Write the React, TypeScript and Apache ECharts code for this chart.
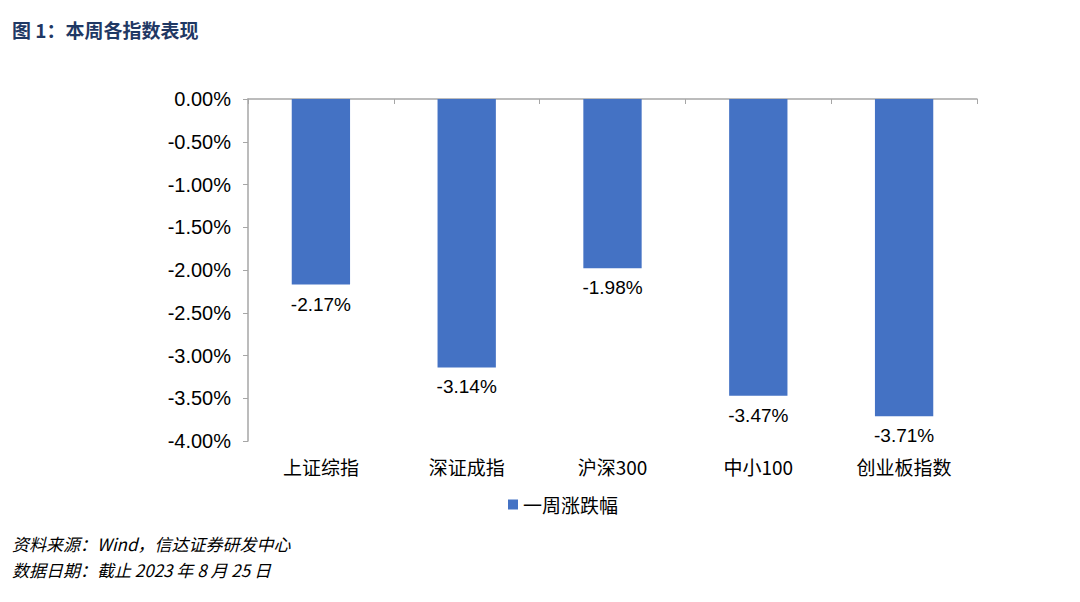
import React, { useEffect, useRef } from "react";
import * as echarts from "echarts";

const categories = ["上证综指", "深证成指", "沪深300", "中小100", "创业板指数"];
const weeklyChange = [-2.17, -3.14, -1.98, -3.47, -3.71];
const seriesName = "一周涨跌幅";

export default function App() {
  const ref = useRef<HTMLDivElement>(null);
  useEffect(() => {
    const chart = echarts.init(ref.current!, null, { renderer: "svg" });
    const cjk = "'Noto Sans CJK SC', sans-serif";
    const latin = "'Liberation Sans', Arial, sans-serif";
    chart.setOption({
      animation: false,
      backgroundColor: "#ffffff",
      title: [
        {
          text: "图 1：本周各指数表现",
          left: 7,
          top: 15,
          textStyle: { fontSize: 19, fontWeight: "bold", color: "#1f3864", fontFamily: cjk },
        },
      ],
      graphic: [
        {
          type: "text",
          left: 12,
          top: 535,
          style: { text: "资料来源：Wind，信达证券研发中心", fontSize: 17, fontStyle: "italic", fill: "#000", fontFamily: cjk },
        },
        {
          type: "text",
          left: 12,
          top: 561,
          style: { text: "数据日期：截止 2023 年 8 月 25 日", fontSize: 17, fontStyle: "italic", fill: "#000", fontFamily: cjk },
        },
      ],
      legend: {
        data: [seriesName],
        top: 490,
        left: 503,
        itemWidth: 10,
        itemHeight: 10,
        itemGap: 6,
        textStyle: { fontSize: 19, color: "#000", fontFamily: cjk },
        icon: "rect",
      },
      grid: { left: 248, right: 103, top: 99, bottom: 161, containLabel: false },
      xAxis: [
        {
          type: "category",
          data: categories,
          position: "top",
          axisLine: { show: true, onZero: false, lineStyle: { color: "#a6a6a6", width: 1.5 } },
          axisTick: { show: true, inside: true, length: 5, alignWithLabel: false, lineStyle: { color: "#a6a6a6" } },
          axisLabel: { show: false },
        },
        {
          type: "category",
          data: categories,
          position: "bottom",
          axisLine: { show: false },
          axisTick: { show: false },
          axisLabel: { show: true, margin: 16, fontSize: 19, color: "#000", fontFamily: cjk },
        },
      ],
      yAxis: {
        type: "value",
        min: -4,
        max: 0,
        interval: 0.5,
        axisLine: { show: true, lineStyle: { color: "#a6a6a6", width: 1.5 } },
        axisTick: { show: true, length: 5, lineStyle: { color: "#a6a6a6" } },
        splitLine: { show: false },
        axisLabel: {
          fontSize: 20,
          color: "#000",
          margin: 17,
          fontFamily: latin,
          formatter: (v: number) => v.toFixed(2) + "%",
        },
      },
      series: [
        {
          name: seriesName,
          type: "bar",
          xAxisIndex: 1,
          data: weeklyChange,
          barWidth: "40%",
          itemStyle: { color: "#4472c4" },
          label: {
            show: true,
            position: "bottom",
            distance: 10,
            fontSize: 19,
            color: "#000",
            fontFamily: latin,
            formatter: (p: any) => p.value.toFixed(2) + "%",
          },
        },
      ],
    });
    return () => chart.dispose();
  }, []);
  return <div ref={ref} style={{ width: 1080, height: 602, position: "absolute", left: 0, top: 0 }} />;
}
